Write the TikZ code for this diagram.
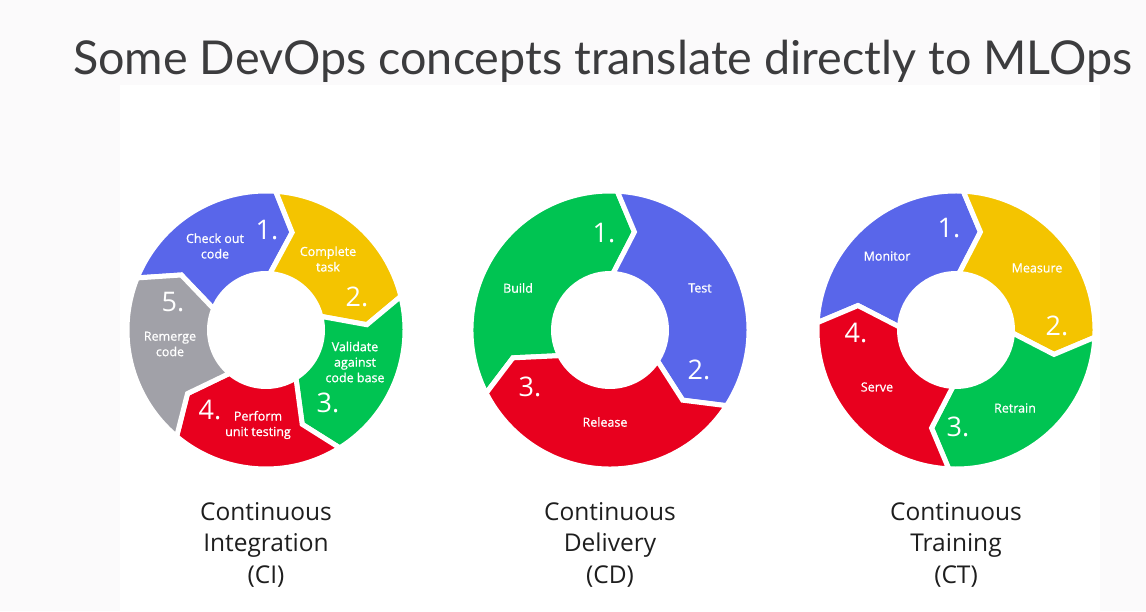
\documentclass[tikz,border=0pt]{standalone}
\usepackage{graphicx}
\usepackage{fontspec}
\setmainfont{Open Sans}
\newfontfamily\headfont{Lato}
\newfontfamily\segfont{Open Sans}[FakeBold=0.8]
\usetikzlibrary{calc}

\definecolor{pagebg}{RGB}{251,250,251}
\definecolor{segblue}{RGB}{89,102,234}
\definecolor{segyellow}{RGB}{244,196,0}
\definecolor{seggreen}{RGB}{0,196,82}
\definecolor{segred}{RGB}{232,0,30}
\definecolor{seggray}{RGB}{161,161,168}
\definecolor{headtext}{RGB}{60,60,62}
\definecolor{captext}{RGB}{30,30,30}

% ring geometry (pt)
\newcommand{\Rout}{139}
\newcommand{\Rin}{56.5}
\newcommand{\Rmid}{101}
\newcommand{\tipoff}{11}

% one arrow-shaped sector of a cycle ring:
% #1 centre, #2 trailing angle, #3 leading angle, #4 colour
\newcommand{\ringseg}[4]{%
  \pgfmathsetmacro\tipA{#3-\tipoff}%
  \pgfmathsetmacro\tipB{#2-\tipoff}%
  \filldraw[sector, fill=#4]
    ($(#1)+(#2:\Rout)$) arc[start angle=#2, end angle=#3, radius=\Rout]
    -- ($(#1)+(\tipA:\Rmid)$)
    -- ($(#1)+(#3:\Rin)$)
    arc[start angle=#3, end angle=#2, radius=\Rin]
    -- ($(#1)+(\tipB:\Rmid)$)
    -- cycle;
}

\begin{document}
\begin{tikzpicture}[x=1pt, y=1pt,
  sector/.style={draw=white, line width=5pt, line join=miter},
  seglabel/.style={text=white, font=\segfont\fontsize{12.5}{15.5}\selectfont, align=center, inner sep=0pt},
  numlabel/.style={text=white, font=\fontsize{27}{27}\selectfont, inner sep=0pt},
  caption/.style={text=captext, font=\fontsize{24.5}{31.5}\selectfont, align=center, inner sep=0pt, anchor=north}
]
\useasboundingbox (0,0) rectangle (1146,611);
\fill[pagebg] (0,0) rectangle (1146,611);
\fill[white] (120,0) rectangle (1100,526);

\node[anchor=base west, inner sep=0pt, text=headtext] (title) at (73,536)
  {\resizebox{1059pt}{!}{\headfont\fontsize{44}{44}\selectfont Some DevOps concepts translate directly to MLOps}};

\coordinate (ci) at (266,281);
\coordinate (cd) at (610,281);
\coordinate (ct) at (956,281);

% Continuous Integration
\ringseg{ci}{158}{86}{segblue}
\ringseg{ci}{86}{14}{segyellow}
\ringseg{ci}{14}{-58}{seggreen}
\ringseg{ci}{-58}{-130}{segred}
\ringseg{ci}{-130}{-202}{seggray}

\node[seglabel] (ci-chk) at (215,365) {Check out\\code};
\node[numlabel] (ci-n1) at (267,381) {1.};
\node[seglabel] (ci-cmp) at (328,352) {Complete\\task};
\node[numlabel] (ci-n2) at (357,314) {2.};
\node[seglabel] (ci-val) at (355,249) {Validate\\against\\code base};
\node[numlabel] (ci-n3) at (328,208) {3.};
\node[numlabel] (ci-n4) at (210,201) {4.};
\node[seglabel] (ci-prf) at (258,186) {Perform\\unit testing};
\node[numlabel] (ci-n5) at (173,309) {5.};
\node[seglabel] (ci-rmg) at (170,267) {Remerge\\code};

% Continuous Delivery
\ringseg{cd}{207}{87}{seggreen}
\ringseg{cd}{87}{-33}{segblue}
\ringseg{cd}{-33}{-153}{segred}

\node[numlabel] (cd-n1) at (604,378) {1.};
\node[seglabel] (cd-bld) at (518,323) {Build};
\node[seglabel] (cd-tst) at (700,323) {Test};
\node[numlabel] (cd-n2) at (699,241) {2.};
\node[numlabel] (cd-n3) at (530,224) {3.};
\node[seglabel] (cd-rel) at (605,189) {Release};

% Continuous Training
\ringseg{ct}{177}{87}{segblue}
\ringseg{ct}{87}{-3}{segyellow}
\ringseg{ct}{-3}{-93}{seggreen}
\ringseg{ct}{-93}{-183}{segred}

\node[numlabel] (ct-n1) at (949,383) {1.};
\node[seglabel] (ct-mon) at (887,355) {Monitor};
\node[seglabel] (ct-mea) at (1037,343) {Measure};
\node[numlabel] (ct-n2) at (1057,285) {2.};
\node[seglabel] (ct-ret) at (1015,203) {Retrain};
\node[numlabel] (ct-n3) at (958,184) {3.};
\node[numlabel] (ct-n4) at (856,278) {4.};
\node[seglabel] (ct-srv) at (877,224) {Serve};

% captions
\node[caption] (cap-ci) at (266,109) {Continuous\\Integration\\(CI)};
\node[caption] (cap-cd) at (610,109) {Continuous\\Delivery\\(CD)};
\node[caption] (cap-ct) at (956,109) {Continuous\\Training\\(CT)};
\end{tikzpicture}
\end{document}
